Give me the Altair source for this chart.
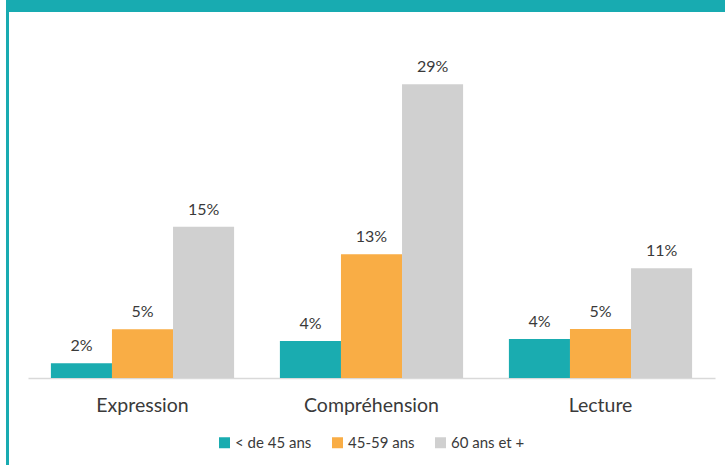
import altair as alt
import pandas as pd

categories = ["Expression", "Compréhension", "Lecture"]
groups = ["< de 45 ans", "45-59 ans", "60 ans et +"]
values_lt45 = [1.46, 3.66, 3.86]
values_45_59 = [4.82, 12.25, 4.85]
values_60p = [14.98, 29.08, 10.86]
labels_lt45 = ["2%", "4%", "4%"]
labels_45_59 = ["5%", "13%", "5%"]
labels_60p = ["15%", "29%", "11%"]
colors = ["#1aacb0", "#f9ad45", "#d0d0d0"]

rows = []
for g, vals, labs in zip(groups, [values_lt45, values_45_59, values_60p],
                         [labels_lt45, labels_45_59, labels_60p]):
    for c, v, l in zip(categories, vals, labs):
        rows.append({"cat": c, "grp": g, "val": v, "lab": l})
df = pd.DataFrame(rows)

FONT = "Lato"
TEXT = "#3a3a3a"

x = alt.X("cat:N", sort=categories, title=None,
          scale=alt.Scale(paddingInner=0.2, paddingOuter=0.1),
          axis=alt.Axis(labelAngle=0, ticks=False, tickSize=0, labelPadding=33,
                        labelBaseline="alphabetic", labelFontSize=19.5,
                        labelColor=TEXT, labelFont=FONT, domainColor="#d9d9d9",
                        domainWidth=1.5, grid=False))
xo = alt.XOffset("grp:N", sort=groups)
y = alt.Y("val:Q", scale=alt.Scale(domain=[0, 30], nice=False), axis=None)

bars = alt.Chart(df).mark_bar().encode(
    x=x, xOffset=xo, y=y,
    color=alt.Color("grp:N", sort=groups,
                    scale=alt.Scale(domain=groups, range=colors),
                    legend=alt.Legend(title=None, orient="none", direction="horizontal",
                                      legendX=189, legendY=360, symbolType="square",
                                      symbolSize=121, symbolStrokeWidth=0,
                                      labelFontSize=15, labelFont=FONT, labelColor=TEXT,
                                      labelOffset=3, columnPadding=18)),
)

text = alt.Chart(df).mark_text(dy=-12, baseline="alphabetic", fontSize=16,
                               font=FONT, color=TEXT).encode(
    x=x, xOffset=xo, y=y, text="lab:N")

deco = pd.DataFrame({"k": [0]})
top_band = alt.Chart(deco).mark_rect(color="#18abb1").encode(
    x=alt.value(-22), x2=alt.value(697), y=alt.value(-75), y2=alt.value(-63))
left_line = alt.Chart(deco).mark_rect(color="#18abb1").encode(
    x=alt.value(-22), x2=alt.value(-19), y=alt.value(-75), y2=alt.value(390))

chart = alt.layer(bars, text, top_band, left_line).properties(
    width=687, height=303,
    autosize=alt.AutoSizeParams(type="none"),
    padding={"left": 28, "top": 75, "right": 10, "bottom": 87},
    background="white",
).configure_view(stroke=None)

chart.save("out.html", embed_options={"renderer": "svg", "actions": False})
